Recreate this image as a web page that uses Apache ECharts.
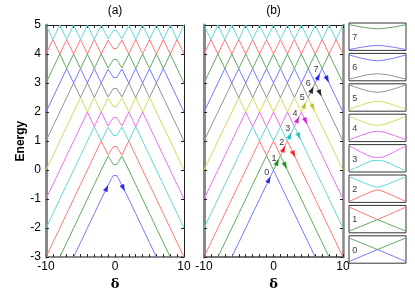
<!DOCTYPE html>
<html><head><meta charset="utf-8">
<script src="https://cdn.jsdelivr.net/npm/echarts@6/dist/echarts.min.js"></script>
<style>html,body{margin:0;padding:0;background:#fff}#c{width:415px;height:296px}</style>
</head><body><div id="c"></div>
<script>
// ---------- data ----------
const xTickLabels = [-10, 0, 10];
const yTickLabels = [-3, -2, -1, 0, 1, 2, 3, 4, 5];

// panel (a): delta samples and band energies (bands 0..10)
const deltaA = [-10,-9,-8,-7,-6,-5,-4,-3,-2,-1,-0.5,-0.25,0,0.25,0.5,1,2,3,4,5,6,7,8,9,10];
const bandsA = [
 [-5,-4.5,-4,-3.5,-3,-2.5,-2,-1.5,-1,-0.52, -0.29,-0.19,-0.14,-0.19,-0.29, -0.52,-1,-1.5,-2,-2.5,-3,-3.5,-4,-4.5,-5],
 [-4,-3.5,-3,-2.5,-2,-1.5,-1,-0.5,0,0.48, 0.29,0.19,0.14,0.19,0.29, 0.48,0,-0.5,-1,-1.5,-2,-2.5,-3,-3.5,-4],
 [-3,-2.5,-2,-1.5,-1,-0.5,0,0.5,1,0.52, 0.71,0.81,0.86,0.81,0.71, 0.52,1,0.5,0,-0.5,-1,-1.5,-2,-2.5,-3],
 [-2,-1.5,-1,-0.5,0,0.5,1,1.5,1,1.48, 1.29,1.19,1.14,1.19,1.29, 1.48,1,1.5,1,0.5,0,-0.5,-1,-1.5,-2],
 [-1,-0.5,0,0.5,1,1.5,2,1.5,2,1.52, 1.71,1.81,1.86,1.81,1.71, 1.52,2,1.5,2,1.5,1,0.5,0,-0.5,-1],
 [0,0.5,1,1.5,2,2.5,2,2.5,2,2.48, 2.29,2.19,2.14,2.19,2.29, 2.48,2,2.5,2,2.5,2,1.5,1,0.5,0],
 [1,1.5,2,2.5,3,2.5,3,2.5,3,2.52, 2.71,2.81,2.86,2.81,2.71, 2.52,3,2.5,3,2.5,3,2.5,2,1.5,1],
 [2,2.5,3,3.5,3,3.5,3,3.5,3,3.48, 3.29,3.19,3.14,3.19,3.29, 3.48,3,3.5,3,3.5,3,3.5,3,2.5,2],
 [3,3.5,4,3.5,4,3.5,4,3.5,4,3.52, 3.71,3.81,3.86,3.81,3.71, 3.52,4,3.5,4,3.5,4,3.5,4,3.5,3],
 [4,4.5,4,4.5,4,4.5,4,4.5,4,4.48, 4.29,4.19,4.14,4.19,4.29, 4.48,4,4.5,4,4.5,4,4.5,4,4.5,4],
 [5,4.5,5,4.5,5,4.5,5,4.5,5,4.52, 4.71,4.81,4.86,4.81,4.71, 4.52,5,4.5,5,4.5,5,4.5,5,4.5,5]
];
const arrowsA = [[-1.2,-0.62],[1.2,-0.62]];

// panel (b)
const deltaB = [-10,-9,-8,-7,-6,-5,-4,-3,-2,-1,0,1,2,3,4,5,6,7,8,9,10];
const bandsB = [
 [-5,-4.5,-4,-3.5,-3,-2.5,-2,-1.5,-1,-0.5,0,-0.5,-1,-1.5,-2,-2.5,-3,-3.5,-4,-4.5,-5],
 [-4,-3.5,-3,-2.5,-2,-1.5,-1,-0.5,0,0.5,0,0.5,0,-0.5,-1,-1.5,-2,-2.5,-3,-3.5,-4],
 [-3,-2.5,-2,-1.5,-1,-0.5,0,0.5,1,0.5,1,0.5,1,0.5,0,-0.5,-1,-1.5,-2,-2.5,-3],
 [-2,-1.5,-1,-0.5,0,0.5,1,1.5,1,1.5,1,1.5,1,1.5,1,0.5,0,-0.5,-1,-1.5,-2],
 [-1,-0.5,0,0.5,1,1.5,2,1.5,2,1.5,2,1.5,2,1.5,2,1.5,1,0.5,0,-0.5,-1],
 [0,0.5,1,1.5,2,2.5,2,2.5,2,2.5,2,2.5,2,2.5,2,2.5,2,1.5,1,0.5,0],
 [1,1.5,2,2.5,3,2.5,3,2.5,3,2.5,3,2.5,3,2.5,3,2.5,3,2.5,2,1.5,1],
 [2,2.5,3,3.5,3,3.5,3,3.5,3,3.5,3,3.5,3,3.5,3,3.5,3,3.5,3,2.5,2],
 [3,3.5,4,3.5,4,3.5,4,3.5,4,3.5,4,3.5,4,3.5,4,3.5,4,3.5,4,3.5,3],
 [4,4.5,4,4.5,4,4.5,4,4.5,4,4.5,4,4.5,4,4.5,4,4.5,4,4.5,4,4.5,4],
 [5,4.5,5,4.5,5,4.5,5,4.5,5,4.5,5,4.5,5,4.5,5,4.5,5,4.5,5,4.5,5]
];
const arrowUpB = [[-0.65,-0.33],[0.55,0.27],[1.47,0.73],[2.37,1.19],[3.48,1.74],[4.49,2.24],[5.54,2.77],[6.45,3.22]];
const arrowDownB = [[1.7,0.15],[2.9,0.55],[3.67,1.17],[4.63,1.69],[5.68,2.16],[6.69,2.65],[7.74,3.13]];
const stepLabels = ['0','1','2','3','4','5','6','7'];
const stepLabelPos = [[-0.98,-0.09],[0.07,0.39],[1.18,0.95],[2.04,1.44],[3.09,1.95],[4.14,2.49],[5.0,2.98],[6.12,3.48]];

// side boxes (index 0..7, drawn bottom to top), normalised coordinates
const boxX = [0,0.1,0.2,0.3,0.4,0.5,0.6,0.7,0.8,0.9,1];
const boxUpper = [
 [0.92,0.836,0.752,0.668,0.584,0.5,0.584,0.668,0.752,0.836,0.92],
 [0.94,0.848,0.756,0.664,0.572,0.48,0.572,0.664,0.756,0.848,0.94],
 [0.94,0.854,0.769,0.685,0.603,0.55,0.603,0.685,0.769,0.854,0.94],
 [0.95,0.85,0.74,0.64,0.545,0.53,0.545,0.64,0.74,0.85,0.95],
 [0.93,0.84,0.76,0.68,0.62,0.59,0.62,0.68,0.76,0.84,0.93],
 [0.96,0.89,0.82,0.76,0.71,0.69,0.71,0.76,0.82,0.89,0.96],
 [0.94,0.89,0.83,0.79,0.75,0.73,0.75,0.79,0.83,0.89,0.94],
 [0.94,0.90,0.86,0.83,0.80,0.79,0.80,0.83,0.86,0.90,0.94]
];
const boxLower = [
 [0.06,0.148,0.236,0.324,0.412,0.5,0.412,0.324,0.236,0.148,0.06],
 [0.06,0.144,0.228,0.312,0.396,0.48,0.396,0.312,0.228,0.144,0.06],
 [0.03,0.125,0.218,0.312,0.401,0.46,0.401,0.312,0.218,0.125,0.03],
 [0.04,0.135,0.23,0.325,0.41,0.42,0.41,0.325,0.23,0.135,0.04],
 [0.06,0.14,0.22,0.29,0.35,0.38,0.35,0.29,0.22,0.14,0.06],
 [0.06,0.14,0.21,0.28,0.34,0.36,0.34,0.28,0.21,0.14,0.06],
 [0.06,0.11,0.16,0.21,0.24,0.26,0.24,0.21,0.16,0.11,0.06],
 [0.03,0.07,0.11,0.14,0.17,0.18,0.17,0.14,0.11,0.07,0.03]
];
const boxLabels = ['0','1','2','3','4','5','6','7'];

// ---------- styling ----------
const lineColors = ['#7878ff','#62aa62','#ff7676','#62d8d8','#e872e8','#d8d860','#929292'];
const arrowColors = ['#0000ee','#007a00','#ee0000','#00baba','#cc00cc','#b8b800','#000000','#0000ee'];
const FF = '"Liberation Sans", Arial, sans-serif';

const grids = [
  {left:46, top:23, width:138, height:239},
  {left:204, top:23, width:139, height:239}
];
const boxTop0 = 23, boxH = 27.4, boxStep = 30.4;
for (let i = 0; i < 8; i++) {
  grids.push({left:349, top:boxTop0 + i*boxStep, width:57, height:boxH,
    show:true, borderColor:'#333', borderWidth:1, backgroundColor:'transparent'});
}

const xAxes = [], yAxes = [];
function mainAxes(gi, opts) {
  const tick = {show:true, inside:true, length:3, lineStyle:{color:'#222', width:1}};
  xAxes.push({gridIndex:gi, type:'value', min:-10, max:10, interval:1, position:'bottom',
    axisLine:{onZero:false, lineStyle:{color:opts.bottom[0], width:opts.bottom[1]}},
    axisTick:tick, splitLine:{show:false},
    axisLabel:{formatter:v => xTickLabels.includes(v) ? String(v) : '', color:'#000', fontSize:12, margin:4, fontFamily:FF},
    name:'δ', nameLocation:'middle', nameGap:17, nameTextStyle:{fontWeight:'bold', fontSize:13, color:'#000', fontFamily:'"DejaVu Serif", serif'}});
  xAxes.push({gridIndex:gi, type:'value', min:-10, max:10, interval:1, position:'top',
    axisLine:{onZero:false, lineStyle:{color:opts.top[0], width:opts.top[1]}},
    axisTick:tick, splitLine:{show:false}, axisLabel:{show:false},
    name:opts.title, nameLocation:'middle', nameGap:8, nameTextStyle:{fontSize:12, color:'#000', fontFamily:FF}});
  yAxes.push({gridIndex:gi, type:'value', min:-3, max:5, interval:1, position:'left',
    axisLine:{onZero:false, lineStyle:{color:opts.left[0], width:opts.left[1]}},
    axisTick:tick, splitLine:{show:false},
    axisLabel:{show:opts.yLabels, formatter:v => yTickLabels.includes(v) ? String(v) : '', color:'#000', fontSize:12, margin:5, fontFamily:FF},
    name:opts.yName, nameLocation:'middle', nameGap:17, nameTextStyle:{fontWeight:'bold', fontSize:12, color:'#000', fontFamily:FF}});
  yAxes.push({gridIndex:gi, type:'value', min:-3, max:5, interval:1, position:'right',
    axisLine:{onZero:false, lineStyle:{color:opts.right[0], width:opts.right[1]}},
    axisTick:tick, splitLine:{show:false}, axisLabel:{show:false}});
}
mainAxes(0, {title:'(a)', yLabels:true, yName:'Energy', left:['#888',3], right:['#222',1], top:['#222',1], bottom:['#888',2]});
mainAxes(1, {title:'(b)', yLabels:false, yName:'', left:['#888',3], right:['#888',2.5], top:['#222',1], bottom:['#444',1.5]});
for (let i = 0; i < 8; i++) {
  xAxes.push({gridIndex:2+i, type:'value', min:0, max:1, show:false});
  yAxes.push({gridIndex:2+i, type:'value', min:0, max:1, show:false});
}

const series = [];
function lineSeries(xi, yi, xs, ys, color) {
  return {type:'line', xAxisIndex:xi, yAxisIndex:yi, data:xs.map((d,i)=>[d, ys[i]]),
    showSymbol:false, symbol:'none', lineStyle:{color:color, width:1}, silent:true, clip:true, z:2};
}
bandsA.forEach((row, n) => series.push(lineSeries(0, 0, deltaA, row, lineColors[n % 7])));
bandsB.forEach((row, n) => series.push(lineSeries(2, 2, deltaB, row, lineColors[n % 7])));

const UP = -25, DOWN = -155;
series.push({type:'scatter', xAxisIndex:0, yAxisIndex:0, symbol:'triangle', symbolSize:[5,7], z:5, silent:true,
  data:[{value:arrowsA[0], symbolRotate:UP, itemStyle:{color:arrowColors[0]}},
        {value:arrowsA[1], symbolRotate:DOWN, itemStyle:{color:arrowColors[0]}}]});
series.push({type:'scatter', xAxisIndex:2, yAxisIndex:2, symbol:'triangle', symbolSize:[5,7], z:5, silent:true,
  data:arrowUpB.map((p,i)=>({value:p, symbolRotate:UP, itemStyle:{color:arrowColors[i]}}))
    .concat(arrowDownB.map((p,i)=>({value:p, symbolRotate:DOWN, itemStyle:{color:arrowColors[i+1]}})))});
series.push({type:'scatter', xAxisIndex:2, yAxisIndex:2, symbolSize:0, z:6, silent:true,
  data:stepLabelPos.map(p=>p),
  label:{show:true, position:'inside', formatter:p => stepLabels[p.dataIndex], color:'#000', fontSize:9, fontFamily:FF}});

for (let b = 0; b < 8; b++) {
  const ax = 4 + (7 - b);
  series.push(lineSeries(ax, ax, boxX, boxUpper[b], lineColors[(b+1) % 7]));
  series.push(lineSeries(ax, ax, boxX, boxLower[b], lineColors[b % 7]));
  series.push({type:'scatter', xAxisIndex:ax, yAxisIndex:ax, symbolSize:0, z:6, silent:true,
    data:[[0.1, 0.47]],
    label:{show:true, position:'inside', formatter:() => boxLabels[b], color:'#000', fontSize:9, fontFamily:FF}});
}

const chart = echarts.init(document.getElementById('c'), null, {renderer:'canvas'});
chart.setOption({animation:false, backgroundColor:'#fff', grid:grids, xAxis:xAxes, yAxis:yAxes, series:series});
</script>
</body></html>
